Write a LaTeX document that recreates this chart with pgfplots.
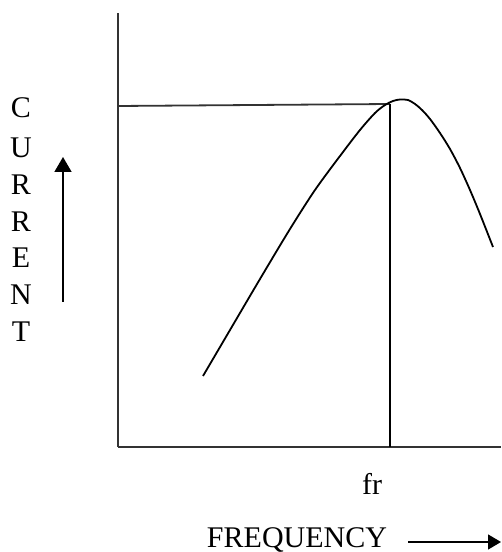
\documentclass[border=0pt]{standalone}
\usepackage{pgfplots}
\pgfplotsset{compat=1.18}
\usepackage{fontspec}
\setmainfont{Liberation Serif}
\usetikzlibrary{arrows.meta}
\definecolor{axgray}{HTML}{333333}
\begin{document}
\begin{tikzpicture}[x=1pt,y=1pt, lbl/.style={font=\fontsize{30}{36}\selectfont, text=black, inner sep=0pt, anchor=base}]
\path (0,0) rectangle (501,552);
\begin{axis}[
  at={(118pt,105pt)}, anchor=south west,
  scale only axis, width=383pt, height=434pt,
  xmin=118, xmax=501, ymin=105, ymax=539,
  axis lines=left, axis line style={-, axgray, line width=2pt},
  xtick=\empty, ytick=\empty,
  clip=false,
]
% reference lines at resonance
\addplot[axgray, line width=1.8pt] coordinates {(118,446) (390,448)};
\addplot[black, line width=1.8pt] coordinates {(390,448) (390,105)};
% resonance curve
\addplot[black, line width=1.8pt, smooth, tension=0.5] coordinates {
(203,176) (230,222) (260,273) (290,323) (315,362) (340,396) (360,422)
(375,439) (385,447) (393,451) (400,452.5) (408,452) (415,448) (422,442)
(430,433) (440,419) (450,403) (460,384) (470,362) (480,338) (493,305)};
% axis labels
\node[lbl] at (axis cs:21,434) {C};
\node[lbl] at (axis cs:21,394) {U};
\node[lbl] at (axis cs:21,357) {R};
\node[lbl] at (axis cs:21,320) {R};
\node[lbl] at (axis cs:21,284) {E};
\node[lbl] at (axis cs:21,247) {N};
\node[lbl] at (axis cs:21,210) {T};
\draw[-{Triangle[length=15pt,width=17pt]}, line width=1.6pt] (axis cs:63,250) -- (axis cs:63,395);
\node[lbl] at (axis cs:372,58) {fr};
\node[lbl] at (axis cs:297,5) {FREQUENCY};
\draw[-{Triangle[length=13pt,width=15pt]}, line width=1.4pt] (axis cs:408,10) -- (axis cs:501,10);
\end{axis}
\end{tikzpicture}
\end{document}
